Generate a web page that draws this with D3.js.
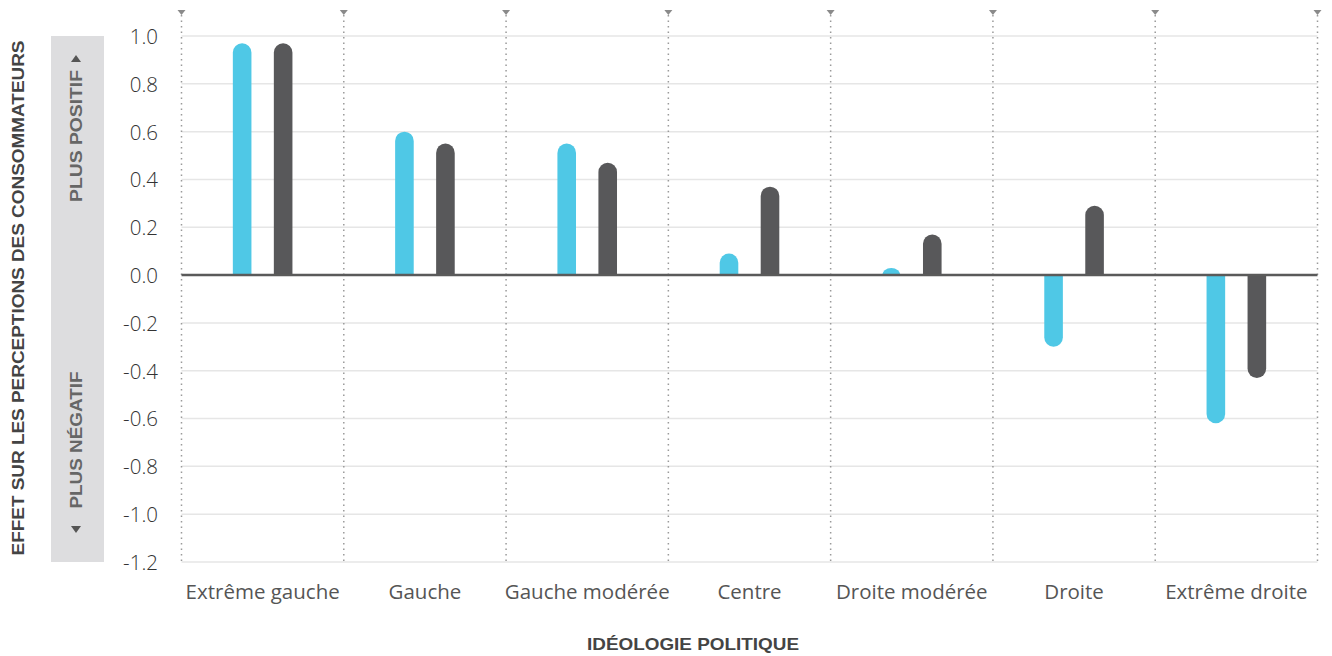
<!DOCTYPE html>
<html>
<head>
<meta charset="utf-8">
<script src="https://cdn.jsdelivr.net/npm/d3@7"></script>
<style>
  html, body { margin: 0; padding: 0; background: #fff; }
  svg { display: block; }
</style>
</head>
<body>
<svg id="chart" width="1332" height="656"></svg>
<script>
// Political ideology categories and the two series of effects
const categories = ["Extrême gauche", "Gauche", "Gauche modérée", "Centre", "Droite modérée", "Droite", "Extrême droite"];
const seriesNames = ["serieA", "serieB"];
const serieA = [0.97, 0.60, 0.55, 0.09, 0.03, -0.30, -0.62];
const serieB = [0.97, 0.55, 0.47, 0.37, 0.17, 0.29, -0.43];
const yTicks = [1.0, 0.8, 0.6, 0.4, 0.2, 0.0, -0.2, -0.4, -0.6, -0.8, -1.0, -1.2];
const colors = { serieA: "#4fc8e6", serieB: "#58585a" };

const svg = d3.select("#chart");

const x = d3.scaleBand().domain(categories).range([181.5, 1317.5]).padding(0);
const y = d3.scaleLinear().domain([-1.2, 1.0]).range([562, 36]);
const sub = d3.scalePoint().domain(seriesNames).range([-20.5, 20.5]);
const barW = 18.6;
const r = barW / 2;
const y0 = y(0);

// Horizontal gridlines
svg.append("g")
  .selectAll("line")
  .data(yTicks.filter(d => d !== 0))
  .join("line")
  .attr("x1", x.range()[0]).attr("x2", x.range()[1])
  .attr("y1", d => y(d)).attr("y2", d => y(d))
  .attr("stroke", "#e6e6e6").attr("stroke-width", 1.5);

// Dotted category separators with small markers on top
const seps = categories.map(c => x(c)).concat([x.range()[1]]);
svg.append("g")
  .selectAll("line")
  .data(seps)
  .join("line")
  .attr("x1", d => d).attr("x2", d => d)
  .attr("y1", 15).attr("y2", y(-1.2))
  .attr("stroke", "#9a9a9a").attr("stroke-width", 1.5)
  .attr("stroke-dasharray", "1.5 4");
svg.append("g")
  .selectAll("path")
  .data(seps)
  .join("path")
  .attr("d", d => `M${d - 4},10 L${d + 4},10 L${d},15 Z`)
  .attr("fill", "#8a8a8a");

// Y axis labels (plain hyphen for negatives)
const fmt = d3.format(".1f");
const yAxis = d3.axisLeft(y).tickValues(yTicks).tickFormat(d => fmt(d).replace("\u2212", "-")).tickSize(0).tickPadding(0);
const gy = svg.append("g").attr("transform", "translate(158,0)").call(yAxis);
gy.select(".domain").remove();
gy.selectAll("text")
  .attr("font-family", "'Open Sans', Lato, sans-serif")
  .attr("font-weight", 300)
  .attr("font-size", 20.5)
  .attr("fill", "#333")
  .attr("dy", "0.36em");

// X axis labels
const xAxis = d3.axisBottom(x).tickSize(0).tickPadding(0);
const gx = svg.append("g").attr("transform", "translate(0,599)").call(xAxis);
gx.select(".domain").remove();
gx.selectAll("text")
  .attr("font-family", "'Open Sans', Lato, sans-serif")
  .attr("font-size", 20.5)
  .attr("fill", "#555")
  .attr("dy", 0);

// Clip regions above and below zero for the rounded bars
const defs = svg.append("defs");
defs.append("clipPath").attr("id", "clip-pos")
  .append("rect").attr("x", 0).attr("y", 0).attr("width", 1332).attr("height", y0);
defs.append("clipPath").attr("id", "clip-neg")
  .append("rect").attr("x", 0).attr("y", y0).attr("width", 1332).attr("height", 656 - y0);

const rows = [];
categories.forEach((c, i) => {
  rows.push({ cat: c, s: "serieA", v: serieA[i] });
  rows.push({ cat: c, s: "serieB", v: serieB[i] });
});

svg.append("g")
  .selectAll("rect")
  .data(rows)
  .join("rect")
  .attr("x", d => x(d.cat) + x.bandwidth() / 2 + sub(d.s) - barW / 2)
  .attr("width", barW)
  .attr("y", d => d.v >= 0 ? y(d.v) : y0 - r)
  .attr("height", d => Math.abs(y(d.v) - y0) + r)
  .attr("rx", r).attr("ry", r)
  .attr("clip-path", d => d.v >= 0 ? "url(#clip-pos)" : "url(#clip-neg)")
  .attr("fill", d => colors[d.s]);

// Zero baseline
svg.append("line")
  .attr("x1", x.range()[0]).attr("x2", x.range()[1])
  .attr("y1", y0).attr("y2", y0)
  .attr("stroke", "#5a5a5a").attr("stroke-width", 2.5);

// Side panel: direction of the effect
svg.append("rect")
  .attr("x", 51).attr("y", y(1.0)).attr("width", 53).attr("height", y(-1.2) - y(1.0))
  .attr("fill", "#dddddf");
svg.append("path").attr("d", "M71,62 L81,62 L76,55 Z").attr("fill", "#555");
svg.append("path").attr("d", "M71,526 L81,526 L76,533 Z").attr("fill", "#555");
svg.append("text")
  .attr("transform", "translate(82,136) rotate(-90)")
  .attr("text-anchor", "middle")
  .attr("font-family", "'Liberation Sans', Arial, sans-serif")
  .attr("font-weight", "bold").attr("font-size", 16.5)
  .attr("textLength", 132).attr("lengthAdjust", "spacingAndGlyphs")
  .attr("fill", "#666")
  .text("PLUS POSITIF");
svg.append("text")
  .attr("transform", "translate(82,440) rotate(-90)")
  .attr("text-anchor", "middle")
  .attr("font-family", "'Liberation Sans', Arial, sans-serif")
  .attr("font-weight", "bold").attr("font-size", 16.5)
  .attr("textLength", 137).attr("lengthAdjust", "spacingAndGlyphs")
  .attr("fill", "#666")
  .text("PLUS NÉGATIF");

// Axis titles
svg.append("text")
  .attr("transform", "translate(24,298) rotate(-90)")
  .attr("text-anchor", "middle")
  .attr("font-family", "'Liberation Sans', Arial, sans-serif")
  .attr("font-weight", "bold").attr("font-size", 16.5)
  .attr("textLength", 515).attr("lengthAdjust", "spacingAndGlyphs")
  .attr("fill", "#444")
  .text("EFFET SUR LES PERCEPTIONS DES CONSOMMATEURS");
svg.append("text")
  .attr("x", 693).attr("y", 650)
  .attr("text-anchor", "middle")
  .attr("font-family", "'Liberation Sans', Arial, sans-serif")
  .attr("font-weight", "bold").attr("font-size", 17)
  .attr("textLength", 212).attr("lengthAdjust", "spacingAndGlyphs")
  .attr("fill", "#444")
  .text("IDÉOLOGIE POLITIQUE");
</script>
</body>
</html>
